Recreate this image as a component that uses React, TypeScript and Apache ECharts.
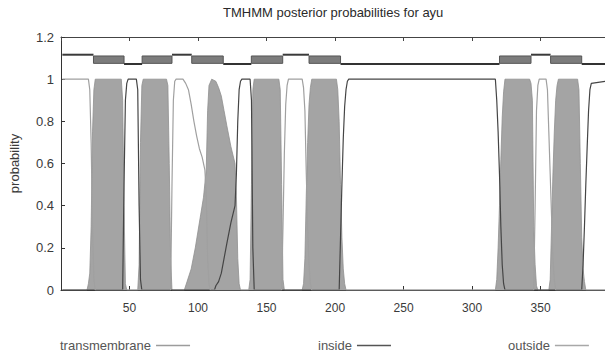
import React, { useEffect, useRef } from "react";
import * as echarts from "echarts";

const TITLE = "TMHMM posterior probabilities for ayu";
const SEQ_START = 0;
const SEQ_END = 397;
const X_TICK_STEP = 50;
const Y_TICK_STEP = 0.2;

// Posterior probability curves: [residue, probability]
const transmembrane: [number, number][] = [
  [1, 0], [19, 0], [20, 0.03], [21, 0.08], [22, 0.3], [23, 0.75], [24, 0.95], [25, 1], [44, 1], [45, 0.9], [46, 0.4], [47, 0.03], [48, 0],
  [56, 0], [57, 0.12], [58, 0.7], [59, 0.97], [60, 1], [77, 1], [78, 0.97], [79, 0.6], [80, 0.15], [81, 0],
  [90, 0], [92, 0.04], [95, 0.1], [98, 0.2], [100, 0.28], [102, 0.36], [104, 0.44], [106, 0.57], [107, 0.85], [108, 0.97], [110, 1], [113, 0.99], [115, 0.96], [117, 0.92], [119, 0.85], [121, 0.78], [124, 0.68], [127, 0.6], [128, 0.45], [129, 0.15], [130, 0.03], [131, 0],
  [137, 0], [138, 0.05], [139, 0.5], [140, 0.95], [141, 1], [159, 1], [160, 0.95], [161, 0.5], [162, 0.05], [163, 0],
  [176, 0], [177, 0.03], [178, 0.15], [179, 0.45], [180, 0.7], [181, 0.88], [182, 0.96], [183, 1], [201, 1], [202, 0.95], [203, 0.8], [204, 0.5], [205, 0.25], [206, 0.1], [207, 0.03], [208, 0],
  [317, 0], [318, 0.05], [319, 0.2], [320, 0.4], [321, 0.62], [322, 0.82], [323, 0.94], [324, 1], [342, 1], [343, 0.98], [344, 0.9], [345, 0.3], [346, 0.12], [347, 0.02], [348, 0],
  [356, 0], [357, 0.05], [358, 0.3], [359, 0.55], [360, 0.75], [361, 0.9], [362, 0.97], [363, 1], [377, 1], [378, 0.95], [379, 0.6], [380, 0.25], [381, 0.1], [382, 0.04], [383, 0], [397, 0],
];

const inside: [number, number][] = [
  [1, 0], [45, 0], [46, 0.5], [47, 0.9], [48, 0.98], [49, 1], [55, 1], [56, 0.95], [57, 0.4], [58, 0.05], [59, 0],
  [112, 0], [113, 0.02], [115, 0.04], [117, 0.08], [119, 0.15], [121, 0.22], [124, 0.32], [127, 0.4], [128, 0.55], [129, 0.8], [130, 0.95], [131, 0.99], [132, 1], [138, 1], [139, 0.9], [140, 0.2], [141, 0],
  [203, 0], [204, 0.25], [205, 0.5], [206, 0.72], [207, 0.87], [208, 0.95], [209, 0.99], [210, 1], [317, 1], [318, 0.9], [319, 0.75], [320, 0.55], [321, 0.3], [322, 0.12], [323, 0.03], [324, 0],
  [380, 0], [381, 0.12], [382, 0.3], [383, 0.5], [384, 0.68], [385, 0.85], [386, 0.95], [387, 0.98], [397, 0.99],
];

const outside: [number, number][] = [
  [1, 1], [20, 1], [21, 0.95], [22, 0.7], [23, 0.3], [24, 0.05], [25, 0],
  [80, 0], [81, 0.5], [82, 0.9], [83, 0.99], [84, 1], [89, 1], [91, 0.98], [93, 0.95], [95, 0.88], [97, 0.8], [99, 0.73], [101, 0.67], [103, 0.63], [105, 0.57], [106, 0.45], [107, 0.15], [108, 0.03], [109, 0],
  [161, 0], [162, 0.3], [163, 0.65], [164, 0.88], [165, 0.97], [166, 1], [176, 1], [177, 0.96], [178, 0.85], [179, 0.55], [180, 0.3], [181, 0.12], [182, 0.03], [183, 0],
  [345, 0], [346, 0.4], [347, 0.85], [348, 0.97], [349, 1], [354, 1], [355, 0.95], [356, 0.75], [357, 0.55], [358, 0.35], [359, 0.15], [360, 0.05], [361, 0], [397, 0],
];

// Predicted topology (top track): [start, end]
const tmSegments: [number, number][] = [
  [23.7, 46], [59.2, 81], [95.4, 118.4], [138.9, 161.8], [181, 204], [320, 343], [357.3, 380],
];
const insideSegments: [number, number][] = [
  [46, 59.2], [118.4, 138.9], [204, 320], [380, 397],
];
const outsideSegments: [number, number][] = [
  [1, 23.7], [81, 95.4], [161.8, 181], [343, 357.3],
];

const OUTSIDE_LEVEL = 1.116;
const INSIDE_LEVEL = 1.072;
const BOX_TOP = 1.11;
const BOX_BOTTOM = 1.075;

const FONT = "'Liberation Sans', Arial, sans-serif";
const TEXT_COLOR = "#3a3a3a";

export default function App() {
  const ref = useRef<HTMLDivElement>(null);

  useEffect(() => {
    if (!ref.current) return;
    const chart = echarts.init(ref.current, null, { renderer: "svg" });

    const lineRender = (level: number, color: string) => (params: any, api: any) => {
      const p1 = api.coord([api.value(0), level]);
      const p2 = api.coord([api.value(1), level]);
      return {
        type: "line",
        shape: { x1: p1[0], y1: p1[1], x2: p2[0], y2: p2[1] },
        style: { stroke: color, lineWidth: 2 },
      };
    };

    const fmtX = (v: number) => (v > 0 && v % X_TICK_STEP === 0 ? String(v) : "");

    chart.setOption({
      animation: false,
      backgroundColor: "#ffffff",
      textStyle: { fontFamily: FONT },
      title: {
        text: TITLE,
        left: 223,
        top: 6,
        padding: 0,
        textStyle: { fontSize: 13, fontWeight: "normal", color: "#2a2a2a", fontFamily: FONT },
      },
      legend: [
        {
          data: [{ name: "transmembrane", icon: "rect", itemStyle: { color: "#9c9c9c" } }],
          left: 60, top: 339, align: "right", itemWidth: 34, itemHeight: 1.5, itemGap: 6, padding: 0,
          selectedMode: false,
          textStyle: { fontSize: 13, color: "#555", fontFamily: FONT },
        },
        {
          data: [{ name: "inside", icon: "rect", itemStyle: { color: "#555" } }],
          left: 318, top: 339, align: "right", itemWidth: 34, itemHeight: 1.5, padding: 0,
          selectedMode: false,
          textStyle: { fontSize: 13, color: "#555", fontFamily: FONT },
        },
        {
          data: [{ name: "outside", icon: "rect", itemStyle: { color: "#a8a8a8" } }],
          left: 508, top: 339, align: "right", itemWidth: 34, itemHeight: 1.5, padding: 0,
          selectedMode: false,
          textStyle: { fontSize: 13, color: "#555", fontFamily: FONT },
        },
      ],
      grid: { left: 59, right: -2, top: 37, bottom: 66 },
      xAxis: [
        {
          type: "value",
          position: "bottom",
          min: SEQ_START,
          max: SEQ_END,
          interval: X_TICK_STEP,
          axisLine: { show: true, onZero: false, lineStyle: { color: "#333", width: 1 } },
          axisTick: { show: true, inside: true, length: 4, lineStyle: { color: "#333" } },
          axisLabel: { formatter: fmtX, fontSize: 12, color: TEXT_COLOR, margin: 12, showMaxLabel: false, fontFamily: FONT },
          splitLine: { show: false },
        },
        {
          type: "value",
          position: "top",
          min: SEQ_START,
          max: SEQ_END,
          interval: X_TICK_STEP,
          axisLine: { show: true, onZero: false, lineStyle: { color: "#444", width: 1 } },
          axisTick: { show: true, inside: true, length: 4, lineStyle: { color: "#444" } },
          axisLabel: { show: false },
          splitLine: { show: false },
        },
      ],
      yAxis: {
        type: "value",
        min: 0,
        max: 1.2,
        interval: Y_TICK_STEP,
        name: "probability",
        nameLocation: "middle",
        nameRotate: 90,
        nameGap: 40,
        nameTextStyle: { fontSize: 13, color: TEXT_COLOR, fontFamily: FONT },
        axisLine: { show: true, lineStyle: { color: "#333", width: 1 } },
        axisTick: { show: true, inside: true, length: 4, lineStyle: { color: "#333" } },
        axisLabel: {
          fontSize: 13,
          color: TEXT_COLOR,
          margin: 7,
          fontFamily: FONT,
          formatter: (v: number) => String(Math.round(v * 10) / 10),
        },
        splitLine: { show: false },
      },
      series: [
        {
          name: "transmembrane",
          type: "line",
          data: transmembrane,
          showSymbol: false,
          symbol: "none",
          lineStyle: { color: "#8f8f8f", width: 0.8 },
          itemStyle: { color: "#9c9c9c" },
          areaStyle: { color: "#a4a4a4", opacity: 1 },
          z: 2,
        },
        {
          name: "inside",
          type: "line",
          data: inside,
          showSymbol: false,
          symbol: "none",
          lineStyle: { color: "#454545", width: 1.2 },
          itemStyle: { color: "#555" },
          z: 3,
        },
        {
          name: "outside",
          type: "line",
          data: outside,
          showSymbol: false,
          symbol: "none",
          lineStyle: { color: "#a0a0a0", width: 1.2 },
          itemStyle: { color: "#a8a8a8" },
          z: 4,
        },
        {
          name: "topology-tm",
          type: "custom",
          silent: true,
          data: tmSegments,
          encode: { x: [0, 1] },
          renderItem: (params: any, api: any) => {
            const p1 = api.coord([api.value(0), BOX_TOP]);
            const p2 = api.coord([api.value(1), BOX_BOTTOM]);
            return {
              type: "rect",
              shape: { x: p1[0], y: p1[1], width: p2[0] - p1[0], height: p2[1] - p1[1] },
              style: { fill: "#7c7c7c", stroke: "#555", lineWidth: 1 },
            };
          },
          z: 5,
        },
        {
          name: "topology-inside",
          type: "custom",
          silent: true,
          data: insideSegments,
          encode: { x: [0, 1] },
          renderItem: lineRender(INSIDE_LEVEL, "#333"),
          z: 5,
        },
        {
          name: "topology-outside",
          type: "custom",
          silent: true,
          data: outsideSegments,
          encode: { x: [0, 1] },
          renderItem: lineRender(OUTSIDE_LEVEL, "#3a3a3a"),
          z: 5,
        },
      ],
    });

    return () => chart.dispose();
  }, []);

  return (
    <div
      ref={ref}
      style={{ position: "fixed", left: 0, top: 0, width: 605, height: 356, background: "#fff" }}
    />
  );
}
